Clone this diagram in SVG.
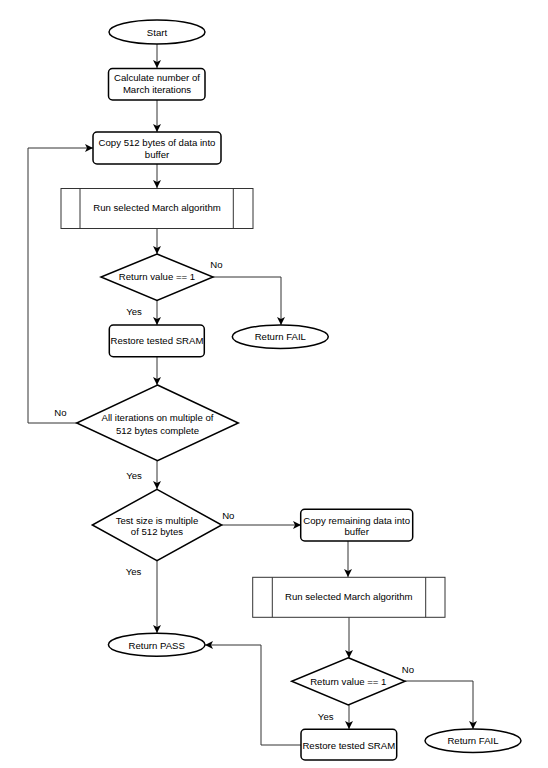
<svg xmlns="http://www.w3.org/2000/svg" width="548" height="768" viewBox="0 0 548 768">
<defs>
<marker id="arr" viewBox="0 0 10 10" refX="10" refY="5" markerWidth="8" markerHeight="8" markerUnits="userSpaceOnUse" orient="auto">
<path d="M0,0 L10,5 L0,10 L2.5,5 z" fill="#000"/>
</marker>
<style>
.n{fill:#fff;stroke:#000;stroke-width:1.5}
.s{fill:#fff;stroke:#333;stroke-width:1}
.c{fill:none;stroke:#333;stroke-width:1;marker-end:url(#arr)}
text{font-family:"Liberation Sans",Arial,sans-serif;font-size:9.6px;fill:#000;text-anchor:middle}
</style>
</defs>
<rect width="548" height="768" fill="#fff"/>
<g id="connectors">
<path class="c" d="M157,44 V68"/>
<path class="c" d="M157,100 V132"/>
<path class="c" d="M157,164 V188"/>
<path class="c" d="M157,228 V254"/>
<path class="c" d="M213,277 H281 V325"/>
<path class="c" d="M157,300 V325"/>
<path class="c" d="M157,357 V385"/>
<path class="c" d="M77,423 H28 V148 H93"/>
<path class="c" d="M157,461 V489"/>
<path class="c" d="M222,525 H301"/>
<path class="c" d="M157,561 V633"/>
<path class="c" d="M348,541 V577"/>
<path class="c" d="M349,617 V658"/>
<path class="c" d="M405,681 H473 V729"/>
<path class="c" d="M349,705 V729"/>
<path class="c" d="M301,745 H261 V645 H205"/>
<text x="216.5" y="267.5">No</text>
<text x="134" y="315">Yes</text>
<text x="60.5" y="415.5">No</text>
<text x="134" y="478.5">Yes</text>
<text x="228.3" y="519">No</text>
<text x="133.5" y="575">Yes</text>
<text x="408" y="672.5">No</text>
<text x="325.7" y="720">Yes</text>
</g>
<g id="start">
<ellipse class="n" cx="157" cy="32" rx="48" ry="12"/>
<text x="157" y="35.5">Start</text>
</g>
<g id="calc">
<rect class="n" x="108.5" y="68.5" width="96.5" height="31.5" rx="4"/>
<text x="157" y="81.2">Calculate number of</text>
<text x="157" y="92.8">March iterations</text>
</g>
<g id="copy512">
<rect class="n" x="93" y="132" width="128" height="32" rx="4"/>
<text x="157" y="146">Copy 512 bytes of data into</text>
<text x="157" y="158">buffer</text>
</g>
<g id="run1">
<rect class="s" x="61" y="188.5" width="192" height="40"/>
<path d="M80,188.5 V228.5 M233.3,188.5 V228.5" stroke="#333" stroke-width="1" fill="none"/>
<text x="157" y="211">Run selected March algorithm</text>
</g>
<g id="check1">
<path class="n" d="M157,254 L213,277 L157,300.5 L101,277 z"/>
<text x="157" y="280">Return value == 1</text>
</g>
<g id="fail1">
<ellipse class="n" cx="280.3" cy="336.7" rx="48" ry="11.7"/>
<text x="280.3" y="340">Return FAIL</text>
</g>
<g id="restore1">
<rect class="n" x="109.3" y="325" width="95" height="31.7" rx="4"/>
<text x="157" y="344">Restore tested SRAM</text>
</g>
<g id="allIter">
<path class="n" d="M157.5,385 L238.3,423 L157.5,460.7 L76.7,423 z"/>
<text x="157.5" y="421">All iterations on multiple of</text>
<text x="157.5" y="433.5">512 bytes complete</text>
</g>
<g id="testSize">
<path class="n" d="M157,489.3 L221.7,525 L157,560.7 L92.3,525 z"/>
<text x="157" y="523.5">Test size is multiple</text>
<text x="157" y="535">of 512 bytes</text>
</g>
<g id="copyRem">
<rect class="n" x="300.7" y="509.3" width="112" height="31.7" rx="4"/>
<text x="356.7" y="523.5">Copy remaining data into</text>
<text x="356.7" y="535">buffer</text>
</g>
<g id="run2">
<rect class="s" x="252.7" y="577.3" width="192.3" height="40"/>
<path d="M272.3,577.3 V617.3 M425.7,577.3 V617.3" stroke="#333" stroke-width="1" fill="none"/>
<text x="348.8" y="600">Run selected March algorithm</text>
</g>
<g id="pass">
<ellipse class="n" cx="156.7" cy="644.7" rx="48.3" ry="11.5"/>
<text x="156.7" y="648.5">Return PASS</text>
</g>
<g id="check2">
<path class="n" d="M348.3,657.7 L405,681.3 L348.3,705 L291.7,681.3 z"/>
<text x="348.3" y="684.5">Return value == 1</text>
</g>
<g id="fail2">
<ellipse class="n" cx="473" cy="740.7" rx="48" ry="11.7"/>
<text x="473" y="744">Return FAIL</text>
</g>
<g id="restore2">
<rect class="n" x="301" y="729.3" width="95.7" height="30.7" rx="4"/>
<text x="348.8" y="748.5">Restore tested SRAM</text>
</g>
</svg>
